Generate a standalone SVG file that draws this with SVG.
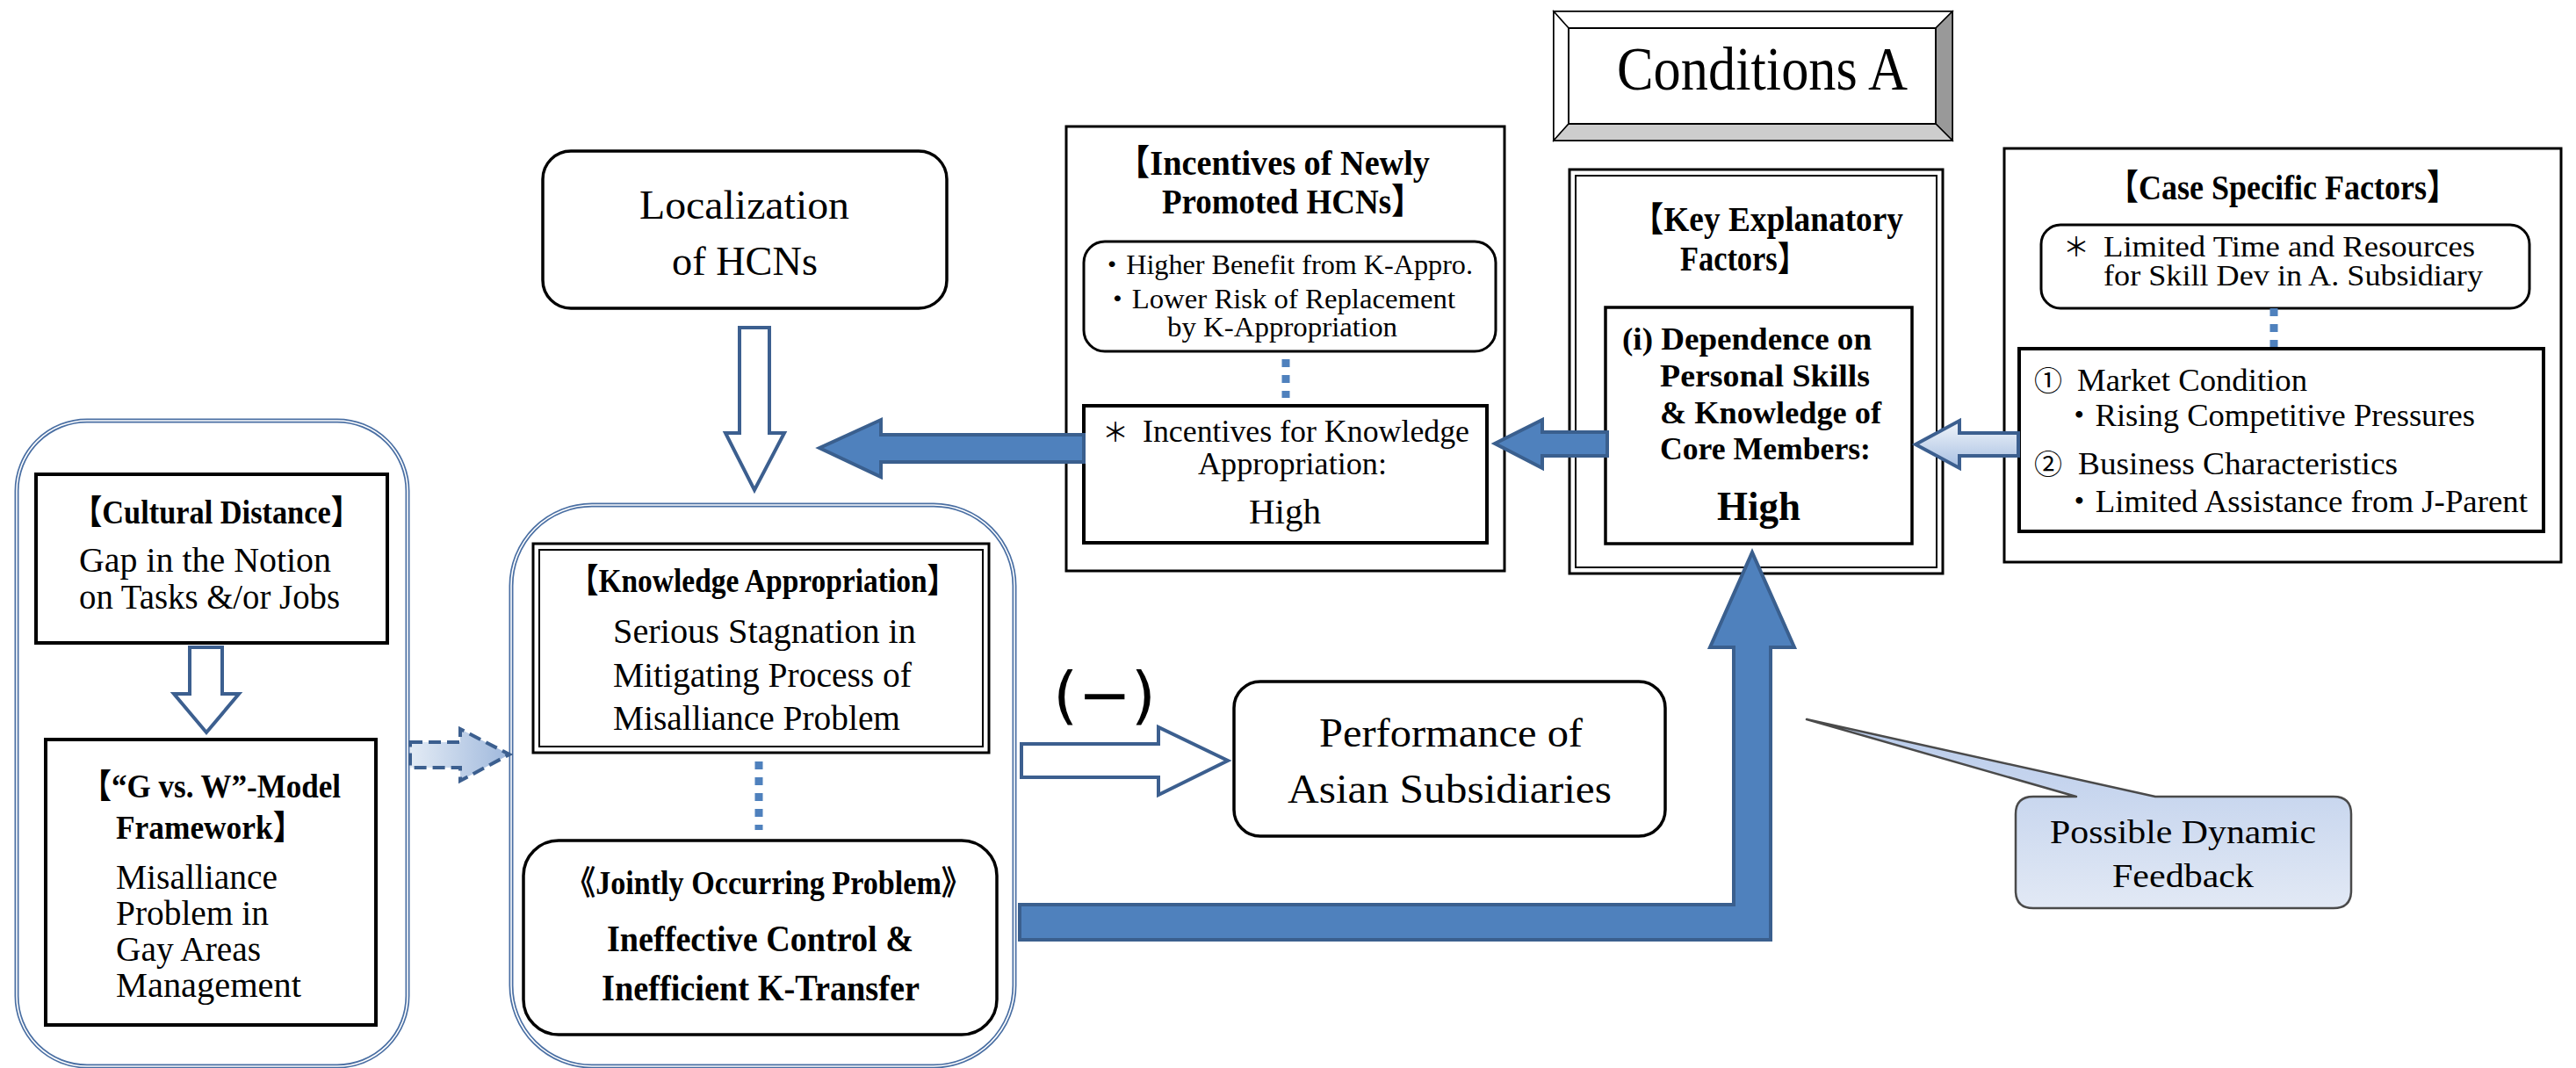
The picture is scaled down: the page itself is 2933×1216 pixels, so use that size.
<svg xmlns="http://www.w3.org/2000/svg" width="2933" height="1216" viewBox="0 0 2933 1216">
<defs>
<style>
.n{font-family:'Liberation Serif','Noto Sans CJK JP',serif;fill:#000}
.nb{font-family:'Liberation Serif','Noto Sans CJK JP',serif;font-weight:bold;fill:#000}
.j{font-family:'Noto Sans CJK JP',sans-serif;fill:#000}
.box{fill:#fff;stroke:#000}
.cont{fill:#fff;stroke:#4a6fa3;stroke-width:5}
.contin{fill:none;stroke:#fff;stroke-width:1.6}
.blue{fill:#4f81bd;stroke:#3a5f8e;stroke-width:4;stroke-linejoin:miter}
.hollow{fill:#fff;stroke:#3c5f8f;stroke-width:4;stroke-linejoin:miter}
.dots{stroke:#4f81bd;stroke-width:9;stroke-dasharray:9 9;fill:none}
</style>
<linearGradient id="gDash" x1="0" y1="0" x2="1" y2="0">
<stop offset="0" stop-color="#e3ebf5"/><stop offset="1" stop-color="#9fb8dc"/>
</linearGradient>
<linearGradient id="gArr" x1="0" y1="0" x2="0" y2="1">
<stop offset="0" stop-color="#f2f6fb"/><stop offset="1" stop-color="#a6bee1"/>
</linearGradient>
<linearGradient id="gCall" x1="0" y1="0" x2="0" y2="1">
<stop offset="0" stop-color="#b7caea"/><stop offset="1" stop-color="#e2e9f5"/>
</linearGradient>
</defs>
<rect width="2933" height="1216" fill="#fff"/>

<g id="left-container">
<rect class="cont" x="19" y="479" width="445" height="735" rx="80"/>
<rect class="contin" x="19" y="479" width="445" height="735" rx="80"/>
</g>

<g id="cultural-distance">
<rect class="box" stroke-width="4" x="41" y="540" width="400" height="192"/>
<text class="nb" font-size="38" x="82" y="596" textLength="329" lengthAdjust="spacingAndGlyphs">【Cultural Distance】</text>
<text class="n" font-size="40" x="90" y="651" textLength="287" lengthAdjust="spacingAndGlyphs">Gap in the Notion</text>
<text class="n" font-size="40" x="90" y="693" textLength="297" lengthAdjust="spacingAndGlyphs">on Tasks &amp;/or Jobs</text>
</g>

<g id="gw-model">
<rect class="box" stroke-width="4" x="52" y="842" width="376" height="325"/>
<text class="nb" font-size="38" x="92" y="908" textLength="296" lengthAdjust="spacingAndGlyphs">【“G vs. W”-Model</text>
<text class="nb" font-size="38" x="132" y="955" textLength="214" lengthAdjust="spacingAndGlyphs">Framework】</text>
<text class="n" font-size="39" x="132" y="1012" textLength="184" lengthAdjust="spacingAndGlyphs">Misalliance</text>
<text class="n" font-size="39" x="132" y="1053" textLength="174" lengthAdjust="spacingAndGlyphs">Problem in</text>
<text class="n" font-size="39" x="132" y="1094" textLength="165" lengthAdjust="spacingAndGlyphs">Gay Areas</text>
<text class="n" font-size="39" x="132" y="1135" textLength="211" lengthAdjust="spacingAndGlyphs">Management</text>
</g>

<g id="middle-container">
<rect class="cont" x="582" y="575" width="573" height="639" rx="92"/>
<rect class="contin" x="582" y="575" width="573" height="639" rx="92"/>
</g>

<g id="knowledge-appropriation">
<rect class="box" stroke-width="3" x="607" y="619" width="519" height="238"/>
<rect fill="none" stroke="#000" stroke-width="2" x="614" y="626" width="505" height="224"/>
<text class="nb" font-size="38" x="648" y="674" textLength="441" lengthAdjust="spacingAndGlyphs">【Knowledge Appropriation】</text>
<text class="n" font-size="40" x="698" y="732" textLength="345" lengthAdjust="spacingAndGlyphs">Serious Stagnation in</text>
<text class="n" font-size="40" x="698" y="782" textLength="340" lengthAdjust="spacingAndGlyphs">Mitigating Process of</text>
<text class="n" font-size="40" x="698" y="831" textLength="327" lengthAdjust="spacingAndGlyphs">Misalliance Problem</text>
</g>

<g id="jointly-occurring">
<rect class="box" stroke-width="3.5" x="596" y="957" width="539" height="221" rx="40"/>
<text class="nb" font-size="38" x="644" y="1018" textLength="462" lengthAdjust="spacingAndGlyphs">《Jointly Occurring Problem》</text>
<text class="nb" font-size="43" x="691" y="1083" textLength="349" lengthAdjust="spacingAndGlyphs">Ineffective Control &amp;</text>
<text class="nb" font-size="43" x="685" y="1139" textLength="362" lengthAdjust="spacingAndGlyphs">Inefficient K-Transfer</text>
</g>

<g id="localization">
<rect class="box" stroke-width="3.5" x="618" y="172" width="460" height="179" rx="32"/>
<text class="n" font-size="47" x="728" y="249" textLength="239" lengthAdjust="spacingAndGlyphs">Localization</text>
<text class="n" font-size="47" x="765" y="313" textLength="166" lengthAdjust="spacingAndGlyphs">of HCNs</text>
</g>

<g id="incentives">
<rect class="box" stroke-width="3" x="1214" y="144" width="499" height="506"/>
<text class="nb" font-size="40" x="1271" y="199" textLength="357" lengthAdjust="spacingAndGlyphs">【Incentives of Newly</text>
<text class="nb" font-size="40" x="1323" y="243" textLength="298" lengthAdjust="spacingAndGlyphs">Promoted HCNs】</text>
<rect class="box" stroke-width="3" x="1234" y="275" width="469" height="125" rx="24"/>
<text class="n" font-size="31" x="1250" y="312" textLength="427" lengthAdjust="spacingAndGlyphs">・Higher Benefit from K-Appro.</text>
<text class="n" font-size="31" x="1256" y="351" textLength="401" lengthAdjust="spacingAndGlyphs">・Lower Risk of Replacement</text>
<text class="n" font-size="31" x="1329" y="383" textLength="262" lengthAdjust="spacingAndGlyphs">by K-Appropriation</text>
<rect class="box" stroke-width="4" x="1234" y="462" width="459" height="156"/>
<text class="j" font-size="30" x="1255" y="503">＊</text>
<text class="n" font-size="36" x="1301" y="503" textLength="372" lengthAdjust="spacingAndGlyphs">Incentives for Knowledge</text>
<text class="n" font-size="36" x="1364" y="540" textLength="215" lengthAdjust="spacingAndGlyphs">Appropriation:</text>
<text class="n" font-size="40" x="1422" y="596" textLength="82" lengthAdjust="spacingAndGlyphs">High</text>
</g>

<g id="conditions-a">
<rect fill="#fff" stroke="#000" stroke-width="2" x="1769" y="13" width="454" height="147"/>
<polygon points="1769,13 2223,13 2204,32 1786,32" fill="#fff" stroke="#000" stroke-width="1.5"/>
<polygon points="1769,13 1786,32 1786,141 1769,160" fill="#fff" stroke="#000" stroke-width="1.5"/>
<polygon points="2223,13 2223,160 2204,141 2204,32" fill="#999" stroke="#000" stroke-width="1.5"/>
<polygon points="1769,160 2223,160 2204,141 1786,141" fill="#cdcdcd" stroke="#000" stroke-width="1.5"/>
<rect fill="#fff" stroke="#000" stroke-width="2" x="1786" y="32" width="418" height="109"/>
<text class="n" font-size="70" x="1841" y="102" textLength="331" lengthAdjust="spacingAndGlyphs">Conditions A</text>
</g>

<g id="key-factors">
<rect class="box" stroke-width="3" x="1787" y="193" width="425" height="460"/>
<rect fill="none" stroke="#000" stroke-width="2" x="1794" y="200" width="411" height="446"/>
<text class="nb" font-size="39" x="1857" y="263" textLength="310" lengthAdjust="spacingAndGlyphs">【Key Explanatory</text>
<text class="nb" font-size="39" x="1913" y="308" textLength="145" lengthAdjust="spacingAndGlyphs">Factors】</text>
<rect class="box" stroke-width="3.5" x="1828" y="350" width="349" height="269"/>
<text class="nb" font-size="36" x="1847" y="398" textLength="284" lengthAdjust="spacingAndGlyphs">(i) Dependence on</text>
<text class="nb" font-size="36" x="1890" y="440" textLength="239" lengthAdjust="spacingAndGlyphs">Personal Skills</text>
<text class="nb" font-size="36" x="1890" y="482" textLength="252" lengthAdjust="spacingAndGlyphs">&amp; Knowledge of</text>
<text class="nb" font-size="36" x="1890" y="523" textLength="240" lengthAdjust="spacingAndGlyphs">Core Members:</text>
<text class="nb" font-size="46" x="1955" y="592" textLength="95" lengthAdjust="spacingAndGlyphs">High</text>
</g>

<g id="case-specific">
<rect class="box" stroke-width="3" x="2282" y="169" width="634" height="471"/>
<text class="nb" font-size="40" x="2399" y="227" textLength="400" lengthAdjust="spacingAndGlyphs">【Case Specific Factors】</text>
<rect class="box" stroke-width="3" x="2324" y="256" width="556" height="95" rx="22"/>
<text class="j" font-size="30" x="2349" y="292">＊</text>
<text class="n" font-size="33" x="2395" y="292" textLength="423" lengthAdjust="spacingAndGlyphs">Limited Time and Resources</text>
<text class="n" font-size="33" x="2395" y="325" textLength="432" lengthAdjust="spacingAndGlyphs">for Skill Dev in A. Subsidiary</text>
<rect class="box" stroke-width="4" x="2299" y="397" width="597" height="208"/>
<text class="j" font-size="32" x="2316" y="445">①</text>
<text class="n" font-size="35" x="2365" y="445" textLength="262" lengthAdjust="spacingAndGlyphs">Market Condition</text>
<text class="n" font-size="35" x="2349" y="485" textLength="469" lengthAdjust="spacingAndGlyphs">・Rising Competitive Pressures</text>
<text class="j" font-size="32" x="2316" y="540">②</text>
<text class="n" font-size="35" x="2366" y="540" textLength="364" lengthAdjust="spacingAndGlyphs">Business Characteristics</text>
<text class="n" font-size="35" x="2349" y="583" textLength="529" lengthAdjust="spacingAndGlyphs">・Limited Assistance from J-Parent</text>
</g>

<g id="performance">
<rect class="box" stroke-width="3.5" x="1405" y="776" width="491" height="176" rx="30"/>
<text class="n" font-size="46" x="1502" y="850" textLength="300" lengthAdjust="spacingAndGlyphs">Performance of</text>
<text class="n" font-size="46" x="1466" y="914" textLength="369" lengthAdjust="spacingAndGlyphs">Asian Subsidiaries</text>
</g>

<g id="dynamic-feedback">
<path d="M2315,907 L2364,907 L2057,819 L2454,907 L2657,907 Q2677,907 2677,927 L2677,1014 Q2677,1034 2657,1034 L2315,1034 Q2295,1034 2295,1014 L2295,927 Q2295,907 2315,907 Z" fill="url(#gCall)" stroke="#4a4a4a" stroke-width="2.5" stroke-linejoin="round"/>
<text class="n" font-size="37" x="2334" y="960" textLength="303" lengthAdjust="spacingAndGlyphs">Possible Dynamic</text>
<text class="n" font-size="37" x="2405" y="1010" textLength="161" lengthAdjust="spacingAndGlyphs">Feedback</text>
</g>

<g id="connectors">
<polygon class="hollow" points="216,737 253,737 253,790 272,790 235,834 198,790 216,790"/>
<polygon points="467,845 524,845 524,830 580,859 524,889 524,874 467,874" fill="url(#gDash)" stroke="#3c5f8f" stroke-width="4" stroke-dasharray="14 7"/>
<polygon class="hollow" points="842,373 876,373 876,493 893,493 859,558 826,493 842,493"/>
<polygon class="blue" points="933,510 1003,478 1003,495 1234,495 1234,526 1003,526 1003,543"/>
<polygon class="blue" points="1702,505 1756,478 1756,492 1830,492 1830,519 1756,519 1756,533"/>
<polygon points="2181,506 2231,479 2231,493 2298,493 2298,519 2231,519 2231,533" fill="url(#gArr)" stroke="#3c5f8f" stroke-width="4"/>
<polygon class="hollow" points="1163,847 1319,847 1319,828 1398,866 1319,905 1319,885 1163,885"/>
<polygon class="blue" points="1161,1030 1974,1030 1974,737 1947,737 1995,629 2043,737 2016,737 2016,1070 1161,1070"/>
<line class="dots" x1="864" y1="867" x2="864" y2="945"/>
<line class="dots" x1="1464" y1="409" x2="1464" y2="453"/>
<line class="dots" x1="2589" y1="351" x2="2589" y2="395"/>
<text font-family="'DejaVu Sans', sans-serif" font-size="72" x="1199" y="816" textLength="117" lengthAdjust="spacingAndGlyphs">(−)</text>
</g>
</svg>
